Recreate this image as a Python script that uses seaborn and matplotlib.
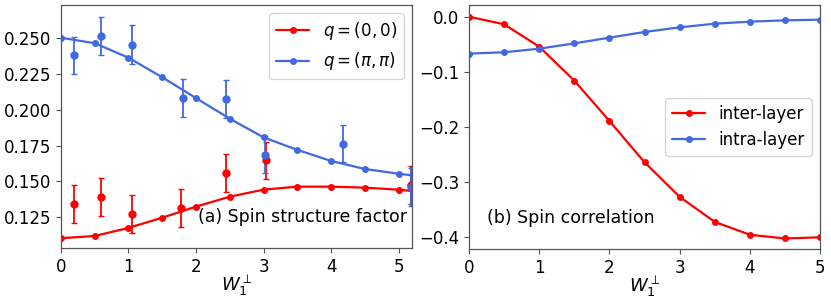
import numpy as np
import pandas as pd
import matplotlib
matplotlib.use("Agg")
import matplotlib.pyplot as plt
import seaborn as sns

RED = "#ff0000"
BLUE = "#4169e1"

# (a) spin structure factor, smooth curves
w_line = [0, 0.5, 1.0, 1.5, 2.0, 2.5, 3.0, 3.5, 4.0, 4.5, 5.0, 5.5]
s00_line = [0.1105, 0.1121, 0.1177, 0.1248, 0.1325, 0.1394, 0.1443,
            0.1464, 0.1464, 0.1457, 0.1443, 0.1420]
spp_line = [0.2500, 0.2462, 0.2361, 0.2225, 0.2080, 0.1937, 0.1807,
            0.1720, 0.1643, 0.1587, 0.1554, 0.1525]

# (a) sampled points with error bars
w_s00 = [0.2, 0.6, 1.05, 1.78, 2.45, 3.03, 5.18]
s00_pts = [0.1344, 0.1391, 0.1274, 0.1314, 0.1561, 0.1648, 0.1476]
s00_err = [0.0131, 0.0131, 0.0131, 0.0132, 0.0131, 0.0130, 0.0133]
w_spp = [0.2, 0.6, 1.05, 1.8, 2.45, 3.02, 4.18, 5.18]
spp_pts = [0.2377, 0.2511, 0.2451, 0.2080, 0.2075, 0.1685, 0.1763, 0.1462]
spp_err = [0.0131, 0.0132, 0.0135, 0.0133, 0.0130, 0.0128, 0.0130, 0.0135]

# (b) spin correlation
w_corr = [0, 0.5, 1.0, 1.5, 2.0, 2.5, 3.0, 3.5, 4.0, 4.5, 5.0]
inter = [0.0, -0.0138, -0.0543, -0.1159, -0.1890, -0.2638, -0.3266,
         -0.3719, -0.3953, -0.4020, -0.4000]
intra = [-0.0669, -0.0645, -0.0580, -0.0483, -0.0380, -0.0277, -0.0193,
         -0.0127, -0.0090, -0.0066, -0.0054]

sns.set_style("ticks")
plt.rcParams.update({
    "font.family": ["DejaVu Sans"],
    "font.size": 12,
    "axes.labelsize": 13,
    "xtick.labelsize": 12,
    "ytick.labelsize": 12,
    "legend.fontsize": 12,
    "text.color": "black",
    "axes.labelcolor": "black",
    "xtick.labelcolor": "black",
    "ytick.labelcolor": "black",
    "axes.edgecolor": "#555555",
    "xtick.color": "#555555",
    "ytick.color": "#555555",
    "xtick.major.size": 3.5,
    "ytick.major.size": 3.5,
    "xtick.major.width": 0.8,
    "ytick.major.width": 0.8,
    "xtick.major.pad": 3.5,
    "ytick.major.pad": 3.5,
})

fig = plt.figure(figsize=(8.31, 3.01), dpi=100)
ax1 = fig.add_axes([0.0734, 0.176, 0.4224, 0.807])
ax2 = fig.add_axes([0.5644, 0.173, 0.4224, 0.810])

line_kw = dict(marker="o", markersize=5, markeredgewidth=0, linewidth=1.6)

sns.lineplot(x=w_line, y=s00_line, color=RED, label=r"$q=(0,0)$", ax=ax1, **line_kw)
sns.lineplot(x=w_line, y=spp_line, color=BLUE, label=r"$q=(\pi,\pi)$", ax=ax1, **line_kw)
ax1.errorbar(w_s00, s00_pts, yerr=s00_err, fmt="o", color=RED, markersize=5,
             capsize=2.5, elinewidth=1.3, ecolor=RED)
ax1.errorbar(w_spp, spp_pts, yerr=spp_err, fmt="o", color=BLUE, markersize=5,
             capsize=2.5, elinewidth=1.3, ecolor=BLUE)
ax1.set_xlim(0, 5.2)
ax1.set_ylim(0.1037, 0.2727)
ax1.set_xticks([0, 1, 2, 3, 4, 5])
ax1.set_yticks([0.125, 0.150, 0.175, 0.200, 0.225, 0.250])
ax1.yaxis.set_major_formatter(matplotlib.ticker.FormatStrFormatter("%.3f"))
ax1.set_xlabel(r"$W_1^{\perp}$", labelpad=-1.5)
ax1.legend(loc="upper right")
ax1.text(0.985, 0.09, "(a) Spin structure factor", transform=ax1.transAxes,
         ha="right", va="bottom", fontsize=12.5)

sns.lineplot(x=w_corr, y=inter, color=RED, label="inter-layer", ax=ax2, **line_kw)
sns.lineplot(x=w_corr, y=intra, color=BLUE, label="intra-layer", ax=ax2, **line_kw)
ax2.set_xlim(0, 5)
ax2.set_ylim(-0.421, 0.021)
ax2.set_xticks([0, 1, 2, 3, 4, 5])
ax2.set_yticks([-0.4, -0.3, -0.2, -0.1, 0.0])
ax2.set_xlabel(r"$W_1^{\perp}$", labelpad=-1.5)
ax2.legend(loc="center right")
ax2.text(0.05, 0.09, "(b) Spin correlation", transform=ax2.transAxes,
         ha="left", va="bottom", fontsize=12.5)

for ax in (ax1, ax2):
    for s in ax.spines.values():
        s.set_visible(True)
        s.set_linewidth(0.9)

fig.savefig("out.png", dpi=100)
